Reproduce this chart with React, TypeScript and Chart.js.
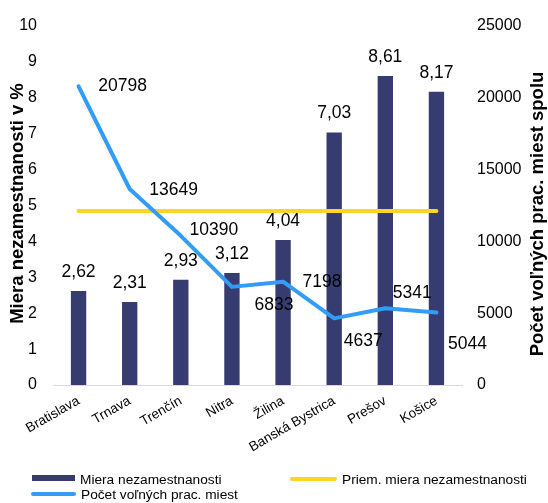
import { useEffect, useRef } from 'react';
import { Chart, registerables } from 'chart.js';

Chart.register(...registerables);

const categories = ['Bratislava', 'Trnava', 'Trenčín', 'Nitra', 'Žilina', 'Banská Bystrica', 'Prešov', 'Košice'];
const unemploymentRate = [2.62, 2.31, 2.93, 3.12, 4.04, 7.03, 8.61, 8.17];
const avgUnemploymentRate = [4.85, 4.85, 4.85, 4.85, 4.85, 4.85, 4.85, 4.85];
const vacancies = [20798, 13649, 10390, 6833, 7198, 4637, 5341, 5044];

const seriesNames = ['Miera nezamestnanosti', 'Priem. miera nezamestnanosti', 'Počet voľných prac. miest'];
const leftAxisTitle = 'Miera nezamestnanosti v %';
const rightAxisTitle = 'Počet voľných prac. miest spolu';

const FONT = '"Liberation Sans", Arial, sans-serif';
const BAR_COLOR = '#363b70';
const YELLOW = '#ffd426';
const BLUE = '#339cf7';

// label offsets (dx, dy) of vacancy labels relative to their points
const vacancyLabelOffsets: [number, number][] = [
  [44, 0], [44, 1], [33, -6], [42, 18], [39, 1], [29, 23], [27, -15], [31, 32],
];

const fmtRate = (v: number) => v.toFixed(2).replace('.', ',');

const decorPlugin = {
  id: 'decor',
  afterDatasetsDraw(chart: any) {
    const ctx = chart.ctx as CanvasRenderingContext2D;
    ctx.save();
    ctx.fillStyle = '#000';
    ctx.font = `17.5px ${FONT}`;
    ctx.textAlign = 'center';
    ctx.textBaseline = 'middle';
    const barMeta = chart.getDatasetMeta(0);
    barMeta.data.forEach((el: any, i: number) => {
      ctx.fillText(fmtRate(chart.data.datasets[0].data[i]), el.x, el.y - 19);
    });
    const lineMeta = chart.getDatasetMeta(2);
    lineMeta.data.forEach((pt: any, i: number) => {
      const [dx, dy] = vacancyLabelOffsets[i];
      ctx.fillText(String(chart.data.datasets[2].data[i]), pt.x + dx, pt.y + dy);
    });

    // axis titles
    ctx.font = `bold 18.5px ${FONT}`;
    ctx.save();
    ctx.translate(17.5, 203.5);
    ctx.rotate(-Math.PI / 2);
    ctx.fillText(leftAxisTitle, 0, 0);
    ctx.restore();
    ctx.save();
    ctx.translate(537.5, 214);
    ctx.rotate(-Math.PI / 2);
    ctx.fillText(rightAxisTitle, 0, 0);
    ctx.restore();

    // legend
    ctx.font = `13.7px ${FONT}`;
    ctx.textAlign = 'left';
    const items = [
      { x: 32, y: 480, w: 43, color: BAR_COLOR, rect: true, text: chart.data.datasets[0].label },
      { x: 290, y: 480, w: 47, color: YELLOW, rect: false, text: chart.data.datasets[1].label },
      { x: 31, y: 495, w: 45, color: BLUE, rect: false, text: chart.data.datasets[2].label },
    ];
    items.forEach((it) => {
      if (it.rect) {
        ctx.fillStyle = it.color;
        ctx.fillRect(it.x, it.y - 5, it.w, 6);
      } else {
        ctx.strokeStyle = it.color;
        ctx.lineWidth = 4;
        ctx.lineCap = 'round';
        ctx.beginPath();
        ctx.moveTo(it.x + 2, it.y - 1);
        ctx.lineTo(it.x + it.w - 2, it.y - 1);
        ctx.stroke();
      }
      ctx.fillStyle = '#000';
      ctx.fillText(it.text, it.x + it.w + 5, it.y);
    });
    ctx.restore();
  },
};

export default function App() {
  const ref = useRef<HTMLCanvasElement | null>(null);
  useEffect(() => {
    if (!ref.current) return;
    const chart = new Chart(ref.current, {
      type: 'bar',
      data: {
        labels: categories,
        datasets: [
          {
            type: 'bar',
            label: seriesNames[0],
            data: unemploymentRate,
            backgroundColor: BAR_COLOR,
            yAxisID: 'y',
            order: 3,
            categoryPercentage: 1,
            barPercentage: 0.3,
          },
          {
            type: 'line',
            label: seriesNames[1],
            data: avgUnemploymentRate,
            borderColor: YELLOW,
            backgroundColor: YELLOW,
            borderWidth: 4,
            pointRadius: 0,
            borderCapStyle: 'round',
            yAxisID: 'y',
            order: 2,
          },
          {
            type: 'line',
            label: seriesNames[2],
            data: vacancies,
            borderColor: BLUE,
            backgroundColor: BLUE,
            borderWidth: 4,
            pointRadius: 0,
            borderCapStyle: 'round',
            borderJoinStyle: 'round',
            yAxisID: 'y1',
            order: 1,
          },
        ],
      } as any,
      options: {
        responsive: false,
        animation: false,
        devicePixelRatio: 1,
        layout: { padding: { top: 26, left: 0, right: 0, bottom: 0 } },
        plugins: { legend: { display: false }, tooltip: { enabled: false } },
        scales: {
          x: {
            grid: { display: false, drawTicks: false },
            border: { display: true, color: '#d9d9d9', width: 1 },
            ticks: {
              autoSkip: false,
              maxRotation: 30,
              minRotation: 30,
              padding: 8,
              color: '#000',
              font: { family: FONT, size: 13.5 },
            },
            afterFit: (s: any) => { s.height = 118; },
          },
          y: {
            position: 'left',
            min: 0,
            max: 10,
            grid: { display: false, drawTicks: false },
            border: { display: false },
            ticks: {
              stepSize: 1,
              padding: 16,
              color: '#000',
              font: { family: FONT, size: 16 },
              callback: (v: any) => String(v),
            },
            afterFit: (s: any) => { s.width = 53; },
          },
          y1: {
            position: 'right',
            min: 0,
            max: 25000,
            grid: { display: false, drawTicks: false },
            border: { display: false },
            ticks: {
              stepSize: 5000,
              padding: 15,
              color: '#000',
              font: { family: FONT, size: 16 },
              callback: (v: any) => String(v),
            },
            afterFit: (s: any) => { s.width = 86; },
          },
        },
      } as any,
      plugins: [decorPlugin],
    });
    return () => chart.destroy();
  }, []);
  return (
    <div style={{ position: 'absolute', left: 0, top: 0, width: 548, height: 503, background: '#fff' }}>
      <canvas ref={ref} width={548} height={503} style={{ width: 548, height: 503, display: 'block' }} />
    </div>
  );
}
